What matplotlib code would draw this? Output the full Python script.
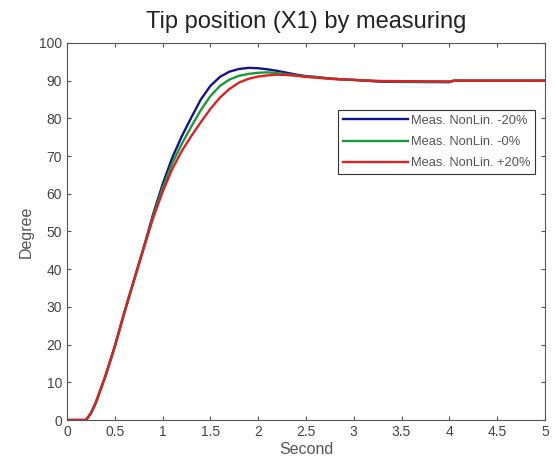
import matplotlib
matplotlib.use("Agg")
import matplotlib.pyplot as plt

plt.rcParams['font.family'] = ['Liberation Sans', 'DejaVu Sans']

t = [0, 0.1, 0.2, 0.25, 0.3, 0.35, 0.4, 0.5, 0.6, 0.7, 0.8, 0.9, 1.0, 1.1, 1.2, 1.3, 1.4,
     1.5, 1.6, 1.7, 1.8, 1.9, 2.0, 2.1, 2.2, 2.3, 2.4, 2.5, 2.6, 2.7, 2.8, 2.9, 3.0,
     3.3, 4.0, 4.05, 5.0]

neg20 = [0, 0, 0, 1.8, 4.5, 8, 11.5, 19.5, 28.5, 37, 45.5, 54.5, 62.5, 69.5, 75.2, 80.2, 85,
         88.6, 91.0, 92.4, 93.1, 93.4, 93.3, 93.0, 92.6, 92.1, 91.6, 91.2, 91.0, 90.7, 90.5, 90.3, 90.2,
         89.7, 89.6, 90, 90]
zero = [0, 0, 0, 1.8, 4.5, 8, 11.5, 19.5, 28.5, 37, 45.5, 54, 61.5, 68, 73.2, 77.8, 82.2,
        85.9, 88.6, 90.3, 91.3, 91.8, 92.1, 92.2, 92.0, 91.7, 91.4, 91.1, 90.9, 90.7, 90.5, 90.3, 90.2,
        89.8, 89.7, 90, 90]
pos20 = [0, 0, 0, 1.8, 4.5, 8, 11.5, 19.5, 28.5, 37, 45.3, 53.5, 60.5, 66.5, 71.3, 75.3, 79,
         82.5, 85.5, 87.8, 89.5, 90.5, 91.1, 91.4, 91.6, 91.5, 91.3, 91.0, 90.8, 90.6, 90.4, 90.3, 90.2,
         89.9, 89.8, 90, 90]

labels = ["Meas. NonLin. -20%", "Meas. NonLin. -0%", "Meas. NonLin. +20%"]
colors = ["#14148a", "#1a9a3a", "#e02020"]

fig = plt.figure(figsize=(5.56, 4.67), dpi=100)
ax = fig.add_axes([0.1205, 0.1006, 0.8595, 0.8074])

for y, lab, c in zip([neg20, zero, pos20], labels, colors):
    ax.plot(t, y, color=c, lw=1.7, label=lab)

ax.set_xlim(0, 5)
ax.set_ylim(0, 100)
ax.set_xticks([0, 0.5, 1, 1.5, 2, 2.5, 3, 3.5, 4, 4.5, 5])
ax.set_xticklabels(["0", "0.5", "1", "1.5", "2", "2.5", "3", "3.5", "4", "4.5", "5"])
ax.set_yticks(range(0, 101, 10))
ax.tick_params(direction="in", top=True, right=True, length=3, labelsize=10,
               colors="#555555", labelcolor="#444444")
for s in ax.spines.values():
    s.set_color("#555555")

ax.set_title("Tip position (X1) by measuring", fontsize=17, color="#222222", pad=11)
ax.set_xlabel("Second", fontsize=11.5, color="#555555", labelpad=2)
ax.set_ylabel("Degree", fontsize=11.5, color="#555555", labelpad=4)

leg = ax.legend(loc="upper right", bbox_to_anchor=(0.988, 0.833), fontsize=9.3,
                frameon=True, fancybox=False, edgecolor="#333333", framealpha=1,
                handlelength=5.0, borderpad=0.4, labelspacing=0.7, handletextpad=0.2,
                borderaxespad=0.3)
leg.get_frame().set_linewidth(0.8)
for txt in leg.get_texts():
    txt.set_color("#555555")

fig.savefig("out.png", dpi=100)
